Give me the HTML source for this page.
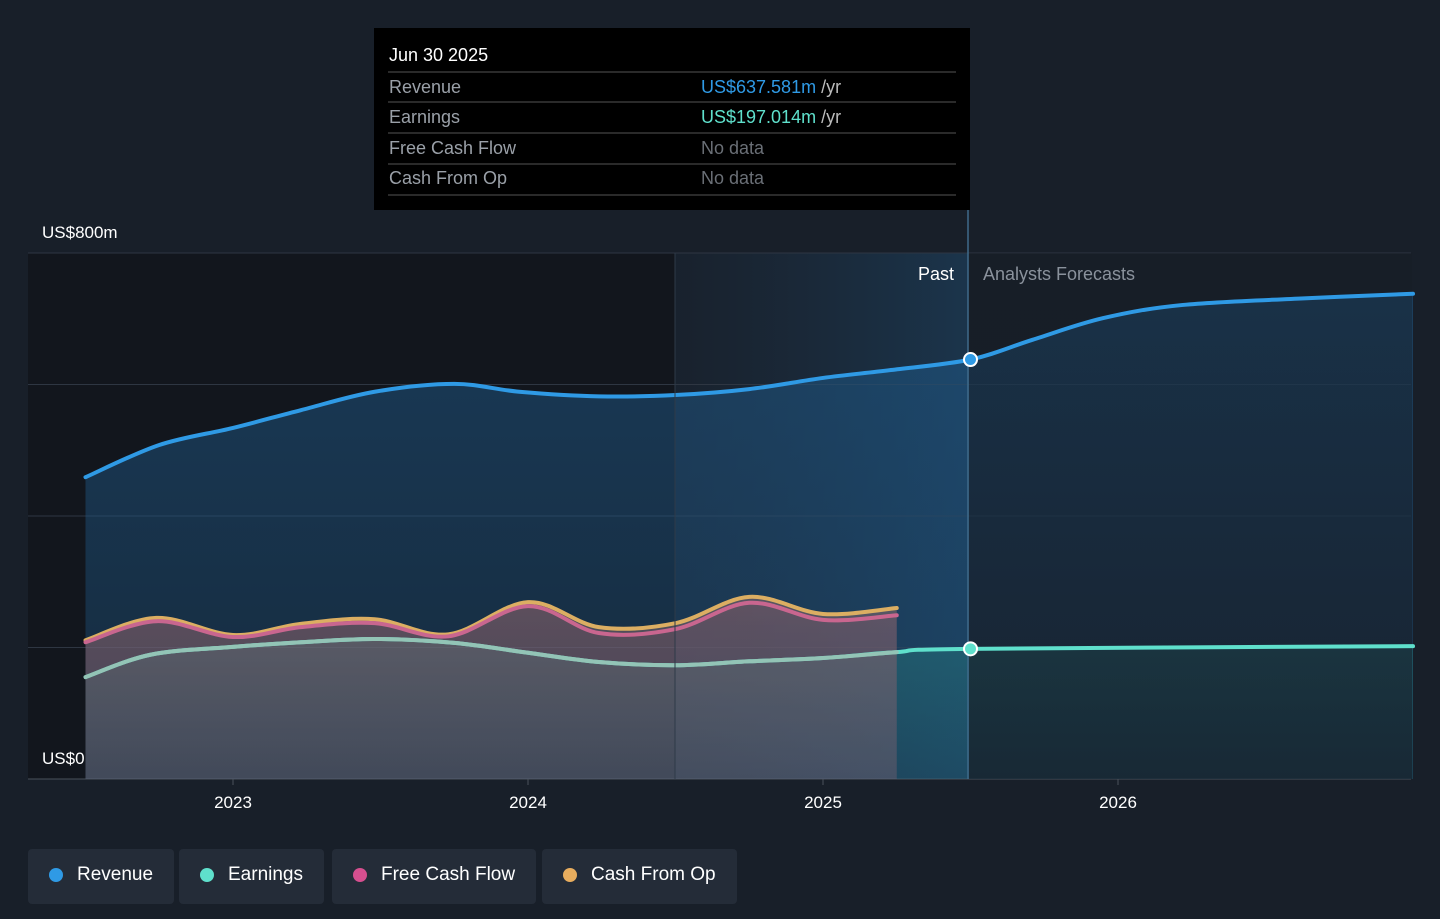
<!DOCTYPE html>
<html><head><meta charset="utf-8"><style>
body{margin:0;background:#181f29;font-family:"Liberation Sans",sans-serif;}
#wrap{position:relative;width:1440px;height:919px;overflow:hidden;}
svg{position:absolute;left:0;top:0;}
.leg{position:absolute;top:849px;height:55px;background:#242c38;border-radius:4px;color:#fff;font-size:19px;line-height:52px;padding:0 21px 0 49px;box-sizing:border-box;}
.leg i{position:absolute;left:21px;top:19px;width:14px;height:14px;border-radius:50%;}
</style></head><body><div id="wrap">
<svg id="chart" width="1440" height="919">
<defs>
<linearGradient id="pastg" x1="0" x2="1" y1="0" y2="0"><stop offset="0" stop-color="#1e3a55" stop-opacity="0.1"/><stop offset="1" stop-color="#1e4a6e" stop-opacity="0.5"/></linearGradient>
<linearGradient id="revg" x1="0" x2="0" y1="253" y2="779" gradientUnits="userSpaceOnUse"><stop offset="0" stop-color="#1f5a8a" stop-opacity="0.55"/><stop offset="1" stop-color="#1f5a8a" stop-opacity="0.3"/></linearGradient>
<linearGradient id="cashg" x1="0" x2="0" y1="600" y2="779" gradientUnits="userSpaceOnUse"><stop offset="0" stop-color="#8a6a6a" stop-opacity="0.55"/><stop offset="1" stop-color="#6a6a72" stop-opacity="0.35"/></linearGradient>
<linearGradient id="earng" x1="0" x2="0" y1="640" y2="779" gradientUnits="userSpaceOnUse"><stop offset="0" stop-color="#2a9a90" stop-opacity="0.3"/><stop offset="1" stop-color="#2a9a90" stop-opacity="0.12"/></linearGradient>
<linearGradient id="fcg" x1="0" x2="0" y1="253" y2="779" gradientUnits="userSpaceOnUse"><stop offset="0" stop-color="#151b24" stop-opacity="0.35"/><stop offset="1" stop-color="#151b24" stop-opacity="0.6"/></linearGradient>
</defs>
<rect x="28" y="253" width="647" height="526" fill="#12161d"/>
<rect x="675" y="253" width="293" height="526" fill="url(#pastg)"/>
<g id="grid"></g>
<g id="marks"></g>
<rect x="969" y="253" width="443" height="526" fill="url(#fcg)"/>
<g id="lines"></g>
<line x1="968" y1="210" x2="968" y2="779" stroke="#3f6a8a" stroke-width="1.5"/>
<line x1="675" y1="253" x2="675" y2="779" stroke="#2e3a48" stroke-width="1"/>
<text x="42" y="238" fill="#fff" font-size="17">US$800m</text>
<text x="42" y="764" fill="#fff" font-size="17">US$0</text>
<text x="954" y="280" fill="#fff" font-size="18" text-anchor="end">Past</text>
<text x="983" y="280" fill="#8a929c" font-size="18">Analysts Forecasts</text>
<g id="xt"></g>
<g id="dots"></g>
<rect x="374" y="28" width="596" height="182" fill="#000"/>
<text x="389" y="61" fill="#fff" font-size="18">Jun 30 2025</text>
<g stroke="#555" stroke-width="1"><line x1="388" x2="956" y1="72" y2="72"/><line x1="388" x2="956" y1="102" y2="102"/><line x1="388" x2="956" y1="133" y2="133"/><line x1="388" x2="956" y1="164" y2="164"/><line x1="388" x2="956" y1="195" y2="195"/></g>
<g font-size="18" fill="#9aa0a8">
<text x="389" y="93">Revenue</text><text x="389" y="123">Earnings</text><text x="389" y="154">Free Cash Flow</text><text x="389" y="184">Cash From Op</text>
<text x="701" y="154" fill="#6a6f76">No data</text><text x="701" y="184" fill="#6a6f76">No data</text>
</g>
<text x="701" y="93" font-size="18" fill="#2f9ae5">US$637.581m <tspan fill="#bbb">/yr</tspan></text>
<text x="701" y="123" font-size="18" fill="#5fe0cc">US$197.014m <tspan fill="#bbb">/yr</tspan></text>
</svg>
<div class="leg" style="left:28px"><i style="background:#2f9ae5"></i>Revenue</div>
<div class="leg" style="left:179px"><i style="background:#5fe0cc"></i>Earnings</div>
<div class="leg" style="left:332px"><i style="background:#d64f8f"></i>Free Cash Flow</div>
<div class="leg" style="left:542px"><i style="background:#e8ad5e"></i>Cash From Op</div>
</div>
<script>
const revX=[2022.5,2022.75,2023,2023.23,2023.48,2023.75,2023.97,2024.24,2024.5,2024.75,2025,2025.23,2025.5,2025.71,2025.95,2026.22,2026.63,2027.0];
const revY=[459,508,534,561,589,601,589,582,584,593,610,622,638,668,701,721,731,738];
const earnX=[2022.5,2022.72,2023,2023.23,2023.48,2023.75,2024,2024.24,2024.5,2024.75,2025,2025.25,2025.5,2027.0];
const earnY=[155,189,201,208,213,207,192,178,173,179,184,193,198,202];
const cfX=[2022.5,2022.74,2023,2023.23,2023.48,2023.73,2024,2024.24,2024.5,2024.75,2025,2025.25];
const cfoY=[211,245,219,236,243,220,269,231,237,277,251,260];
const fcfY=[208,240,216,231,237,217,263,222,228,268,242,249];
const yTicks=[0,200,400,600,800];
const xTicks=[2023,2024,2025,2026];
const NOW=2025.5;
const X=v=>233+(v-2023)*295, Y=v=>779-v*526/800;
const NS='http://www.w3.org/2000/svg';
function mk(t,a,p){const e=document.createElementNS(NS,t);for(const k in a)e.setAttribute(k,a[k]);p.appendChild(e);return e;}
function path(xs,ys){const p=xs.map((x,i)=>[X(x),Y(ys[i])]);let d='M'+p[0];for(let i=0;i<p.length-1;i++){const p0=p[i-1]||p[i],p1=p[i],p2=p[i+1],p3=p[i+2]||p2;const c1=[p1[0]+(p2[0]-p0[0])/6,p1[1]+(p2[1]-p0[1])/6],c2=[p2[0]-(p3[0]-p1[0])/6,p2[1]-(p3[1]-p1[1])/6];d+='C'+c1+' '+c2+' '+p2;}return d;}
const grid=document.getElementById('grid'),marks=document.getElementById('marks'),lines=document.getElementById('lines'),xt=document.getElementById('xt'),dots=document.getElementById('dots');
yTicks.forEach(v=>{const l=mk('line',{x1:28,x2:1411,y1:Y(v),y2:Y(v),stroke:v==0?'#4a525c':'#2e3642','stroke-width':1},grid);

});
xTicks.forEach(v=>{const t=mk('text',{x:X(v),y:808,fill:'#fff','font-size':17,'text-anchor':'middle'},xt);t.textContent=v;


mk('line',{x1:X(v),x2:X(v),y1:779,y2:785,stroke:'#4a525c'},xt);});
function area(xs,ys,fill,op,name){const x0=X(xs[0]),x1=X(xs[xs.length-1]);const a=mk('path',{d:path(xs,ys)+`L${x1},779L${x0},779Z`,fill:fill,'fill-opacity':op},marks);

}
function line(xs,ys,col,name){const l=mk('path',{d:path(xs,ys),fill:'none',stroke:col,'stroke-width':4,'stroke-linecap':'round'},lines);

}
area(revX,revY,'url(#revg)',1,'revenue');
area(earnX,earnY,'url(#earng)',1,'earnings');
area(cfX,cfoY,'url(#cashg)',1,'cash-from-op');
area(cfX,fcfY,'#8a4a6a',0.15,'free-cash-flow');
line(revX,revY,'#2f9ae5','revenue');
line(earnX,earnY,'#5fe0cc','earnings');
line(earnX.slice(0,12),earnY.slice(0,12),'#93c4b6','earnings-past');
line(cfX,cfoY,'#dcae62','cash-from-op');
line(cfX,fcfY,'#c9668f','free-cash-flow');
[[revX,revY,'#2f9ae5','revenue'],[earnX,earnY,'#5fe0cc','earnings']].forEach(([xs,ys,c,n])=>{const i=xs.indexOf(NOW);const d=mk('circle',{cx:X(NOW),cy:Y(ys[i]),r:6.5,fill:c,stroke:'#fff','stroke-width':2},dots);

});
</script>
</body></html>
